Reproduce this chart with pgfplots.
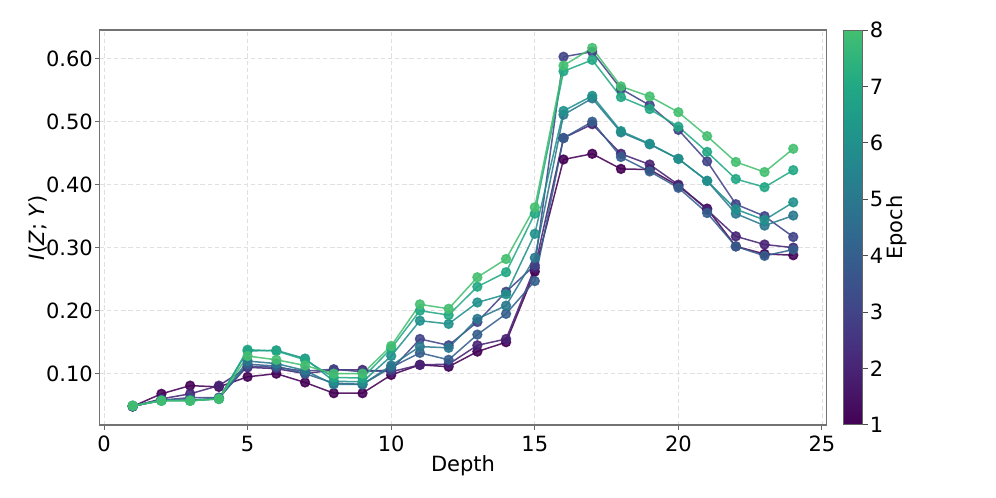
\documentclass[border=0pt]{standalone}
\usepackage{pgfplots}
\pgfplotsset{compat=1.18}
\usepackage{pgfplotstable}
\usepackage{fontspec}
\setmainfont{DejaVu Sans}

% viridis, cut at 0.7, one colour per epoch
\definecolor{ep1}{RGB}{68,1,84}
\definecolor{ep2}{RGB}{72,36,117}
\definecolor{ep3}{RGB}{65,68,135}
\definecolor{ep4}{RGB}{53,95,141}
\definecolor{ep5}{RGB}{42,120,142}
\definecolor{ep6}{RGB}{33,145,140}
\definecolor{ep7}{RGB}{34,168,132}
\definecolor{ep8}{RGB}{68,191,112}

\pgfplotstableread{
x  e1    e2    e3    e4    e5    e6    e7    e8
1  0.048 0.048 0.048 0.048 0.049 0.049 0.049 0.049
2  0.068 0.060 0.058 0.058 0.058 0.057 0.057 0.057
3  0.081 0.068 0.062 0.058 0.058 0.057 0.057 0.057
4  0.079 0.081 0.062 0.061 0.060 0.060 0.060 0.060
5  0.095 0.110 0.112 0.115 0.120 0.136 0.138 0.128
6  0.100 0.108 0.110 0.112 0.116 0.137 0.136 0.122
7  0.086 0.100 0.104 0.100 0.105 0.124 0.122 0.113
8  0.069 0.106 0.107 0.085 0.083 0.088 0.094 0.100
9  0.069 0.106 0.103 0.083 0.083 0.087 0.093 0.100
10 0.098 0.103 0.106 0.110 0.113 0.128 0.140 0.144
11 0.114 0.114 0.155 0.133 0.143 0.184 0.200 0.210
12 0.111 0.115 0.145 0.122 0.141 0.179 0.193 0.203
13 0.135 0.145 0.182 0.162 0.187 0.213 0.238 0.253
14 0.150 0.155 0.230 0.195 0.208 0.226 0.261 0.282
15 0.262 0.268 0.272 0.247 0.284 0.322 0.354 0.364
16 0.440 0.474 0.603 0.474 0.511 0.517 0.580 0.589
17 0.449 0.496 0.611 0.500 0.537 0.541 0.598 0.617
18 0.425 0.449 0.552 0.444 0.483 0.485 0.539 0.556
19 0.424 0.432 0.526 0.421 0.464 0.465 0.520 0.540
20 0.398 0.400 0.487 0.395 0.441 0.441 0.492 0.515
21 0.362 0.360 0.437 0.355 0.406 0.406 0.452 0.477
22 0.302 0.318 0.369 0.302 0.354 0.361 0.409 0.436
23 0.290 0.305 0.350 0.287 0.335 0.344 0.396 0.420
24 0.288 0.300 0.317 0.297 0.351 0.372 0.423 0.457
}\depthdata

\pgfplotsset{
  ep/.style={color=#1, mark=*, mark size=2.2pt, line width=0.75pt, opacity=0.88},
}

\begin{document}
\begin{tikzpicture}
\path[use as bounding box] (-49.85pt,-36.5pt) rectangle (448.15pt,212.5pt);
\begin{axis}[
  scale only axis,
  width=363.3pt, height=197.5pt,
  xmin=-0.15, xmax=25.15, ymin=0.0185, ymax=0.6455,
  xtick={0,5,...,25},
  ytick={0.1,0.2,...,0.61},
  /pgf/number format/assume math mode=true,
  ticklabel style={font=\fontsize{10.5}{12.6}\selectfont},
  yticklabel style={xshift=2.5pt, /pgf/number format/.cd, fixed, fixed zerofill, precision=2},
  xticklabel style={yshift=0.5pt},
  label style={font=\fontsize{10.5}{12.6}\selectfont},
  xlabel={Depth},
  ylabel={\textit{I}(\textit{Z}; \textit{Y})},
  xlabel style={yshift=5pt},
  ylabel style={yshift=-7.5pt},
  tick align=outside, major tick length=2.4pt,
  xtick pos=bottom, ytick pos=left,
  tick style={black!60, line width=0.5pt},
  axis line style={black!55, line width=0.6pt},
  grid=major,
  major grid style={black!12, line width=0.4pt, dash pattern=on 2.2pt off 1.4pt},
  point meta min=1, point meta max=8,
  colormap={vir}{rgb255=(68,1,84) rgb255=(71,19,101) rgb255=(72,36,117)
    rgb255=(70,52,128) rgb255=(65,68,135) rgb255=(59,82,139) rgb255=(53,95,141)
    rgb255=(47,108,142) rgb255=(42,120,142) rgb255=(37,132,142) rgb255=(33,145,140)
    rgb255=(30,156,137) rgb255=(34,168,132) rgb255=(47,180,124) rgb255=(68,191,112)},
  colorbar,
  colorbar style={
    at={(parent axis.north east)}, anchor=north west, xshift=0pt,
    width=9.8pt,
    ytick={1,2,...,8},
    ytick pos=right, yticklabel pos=right,
    tick align=outside, major tick length=2.4pt,
    tick style={black!70, line width=0.5pt},
    axis line style={black!60, line width=0.5pt},
    /pgf/number format/assume math mode=true,
    ticklabel style={font=\fontsize{10.5}{12.6}\selectfont},
    yticklabel style={xshift=-2.5pt},
    ylabel={Epoch},
    ylabel near ticks,
    ylabel style={font=\fontsize{10.5}{12.6}\selectfont, yshift=5pt},
  },
]
\addplot[ep=ep1] table[x=x, y=e1] {\depthdata};
\addplot[ep=ep2] table[x=x, y=e2] {\depthdata};
\addplot[ep=ep3] table[x=x, y=e3] {\depthdata};
\addplot[ep=ep4] table[x=x, y=e4] {\depthdata};
\addplot[ep=ep5] table[x=x, y=e5] {\depthdata};
\addplot[ep=ep6] table[x=x, y=e6] {\depthdata};
\addplot[ep=ep7] table[x=x, y=e7] {\depthdata};
\addplot[ep=ep8] table[x=x, y=e8] {\depthdata};
\end{axis}
\end{tikzpicture}
\end{document}
